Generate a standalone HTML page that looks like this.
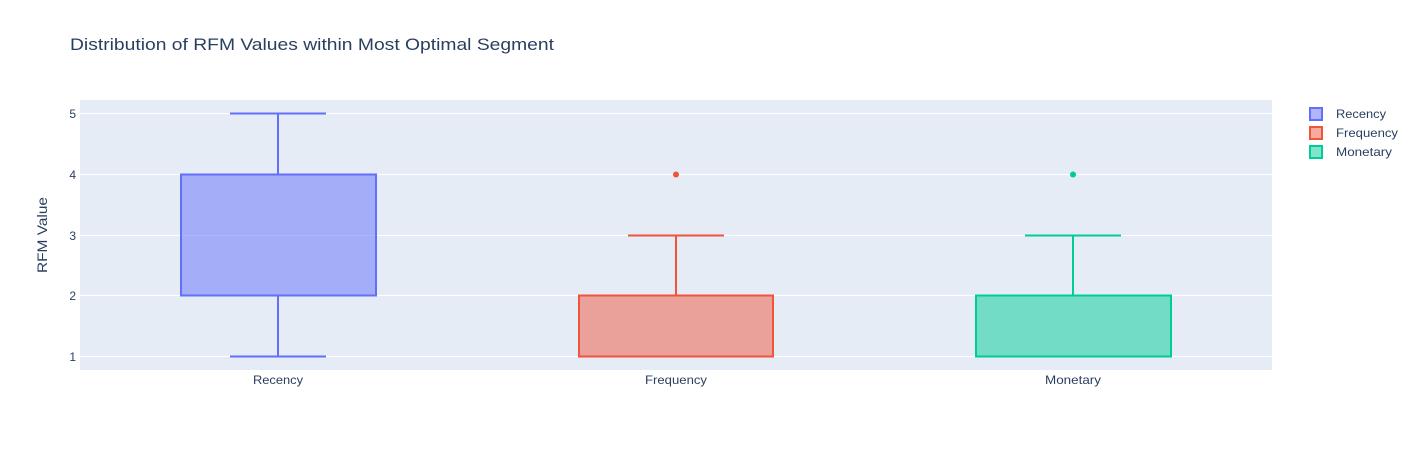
<!DOCTYPE html>
<html><head><meta charset="utf-8"><style>
body{margin:0;background:#fff;}
svg text{font-family:"Liberation Sans",Arial,sans-serif;fill:#2a3f5f;}
</style></head><body>
<svg width="1416" height="450" xmlns="http://www.w3.org/2000/svg">
<rect width="1416" height="450" fill="#fff"/>
<rect x="80" y="100" width="1192" height="270" fill="#e5ecf6"/>
<g stroke="#fff" stroke-width="1">
<line x1="80" x2="1272" y1="113.5" y2="113.5"/>
<line x1="80" x2="1272" y1="174.5" y2="174.5"/>
<line x1="80" x2="1272" y1="235.5" y2="235.5"/>
<line x1="80" x2="1272" y1="295.5" y2="295.5"/>
<line x1="80" x2="1272" y1="356.5" y2="356.5"/>
</g>
<text x="70" y="50" font-size="17" textLength="484" lengthAdjust="spacingAndGlyphs">Distribution of RFM Values within Most Optimal Segment</text>
<g font-size="12" text-anchor="end">
<text x="76" y="118">5</text><text x="76" y="179">4</text><text x="76" y="240">3</text><text x="76" y="300">2</text><text x="76" y="361">1</text>
</g>
<text transform="translate(47,235) rotate(-90)" font-size="14" text-anchor="middle" textLength="76" lengthAdjust="spacingAndGlyphs">RFM Value</text>
<g font-size="12" text-anchor="middle">
<text x="278" y="384" textLength="50" lengthAdjust="spacingAndGlyphs">Recency</text><text x="676" y="384" textLength="62" lengthAdjust="spacingAndGlyphs">Frequency</text><text x="1073" y="384" textLength="56" lengthAdjust="spacingAndGlyphs">Monetary</text>
</g>
<g stroke="#636efa" stroke-width="2" fill="none">
<rect x="181" y="174.5" width="195" height="121" fill="rgba(99,110,250,0.5)"/>
<line x1="278" x2="278" y1="113.5" y2="174.5"/><line x1="278" x2="278" y1="295.5" y2="356.5"/>
<line x1="230" x2="326" y1="113.5" y2="113.5"/><line x1="230" x2="326" y1="356.5" y2="356.5"/>
</g>
<g stroke="#EF553B" stroke-width="2" fill="none">
<rect x="579" y="295.5" width="194" height="61" fill="rgba(239,85,59,0.5)"/>
<line x1="676" x2="676" y1="235.5" y2="295.5"/>
<line x1="628" x2="724" y1="235.5" y2="235.5"/>
</g>
<circle cx="676" cy="174.5" r="3" fill="#EF553B"/>
<g stroke="#00cc96" stroke-width="2" fill="none">
<rect x="976" y="295.5" width="195" height="61" fill="rgba(0,204,150,0.5)"/>
<line x1="1073" x2="1073" y1="235.5" y2="295.5"/>
<line x1="1025" x2="1121" y1="235.5" y2="235.5"/>
</g>
<circle cx="1073" cy="174.5" r="3" fill="#00cc96"/>
<g stroke-width="2">
<rect x="1310" y="108" width="12" height="12" fill="rgba(99,110,250,0.5)" stroke="#636efa"/>
<rect x="1310" y="127" width="12" height="12" fill="rgba(239,85,59,0.5)" stroke="#EF553B"/>
<rect x="1310" y="146" width="12" height="12" fill="rgba(0,204,150,0.5)" stroke="#00cc96"/>
</g>
<g font-size="12">
<text x="1336" y="118" textLength="50" lengthAdjust="spacingAndGlyphs">Recency</text><text x="1336" y="137" textLength="62" lengthAdjust="spacingAndGlyphs">Frequency</text><text x="1336" y="156" textLength="56" lengthAdjust="spacingAndGlyphs">Monetary</text>
</g>
</svg>
</body></html>
